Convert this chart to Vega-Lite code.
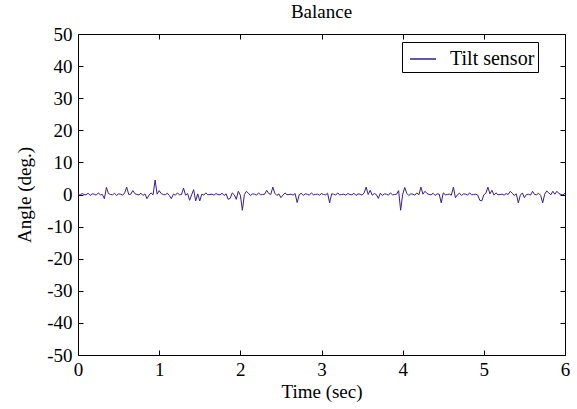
{
  "$schema": "https://vega.github.io/schema/vega-lite/v6.json",
  "width": 487,
  "height": 321,
  "autosize": "none",
  "padding": {"left": 78, "top": 34, "right": 12, "bottom": 54},
  "background": "white",
  "title": {"text": "Balance", "font": "Liberation Serif", "fontSize": 19, "fontWeight": "normal", "color": "black", "offset": 3},
  "config": {
    "view": {"stroke": "black", "strokeWidth": 1},
    "font": "Liberation Serif",
    "axis": {
      "grid": false,
      "domainColor": "black",
      "tickColor": "black",
      "tickSize": -5,
      "labelFont": "Liberation Serif",
      "labelFontSize": 19,
      "labelColor": "black",
      "titleFont": "Liberation Serif",
      "titleFontSize": 19,
      "titleFontWeight": "normal",
      "titleColor": "black"
    },
    "legend": {
      "orient": "none",
      "legendX": 324,
      "legendY": 8,
      "strokeColor": "black",
      "fillColor": "white",
      "padding": 3,
      "symbolOffset": 4,
      "labelOffset": 13,
      "labelFont": "Liberation Serif",
      "labelFontSize": 20,
      "labelColor": "black",
      "labelLimit": 0,
      "symbolType": "stroke",
      "symbolSize": 680,
      "symbolStrokeWidth": 1.5,
      "cornerRadius": 0
    }
  },
  "data": {"values": [
    {"t":0,"a":0.1},{"t":0.025,"a":-0.2},{"t":0.05,"a":0.3},{"t":0.075,"a":0.0},{"t":0.1,"a":-0.1},{"t":0.125,"a":0.4},{"t":0.15,"a":-0.3},{"t":0.175,"a":0.2},{"t":0.2,"a":0.1},{"t":0.225,"a":-0.2},
    {"t":0.25,"a":0.5},{"t":0.275,"a":-0.1},{"t":0.3,"a":0.0},{"t":0.325,"a":-1.3},{"t":0.35,"a":2.2},{"t":0.375,"a":0.3},{"t":0.4,"a":0.0},{"t":0.425,"a":-0.1},{"t":0.45,"a":0.4},{"t":0.475,"a":-0.3},
    {"t":0.5,"a":0.2},{"t":0.525,"a":0.1},{"t":0.55,"a":-0.2},{"t":0.575,"a":0.5},{"t":0.6,"a":2.3},{"t":0.625,"a":0.0},{"t":0.65,"a":0.1},{"t":0.675,"a":1.2},{"t":0.7,"a":0.3},{"t":0.725,"a":0.0},
    {"t":0.75,"a":-0.1},{"t":0.775,"a":0.4},{"t":0.8,"a":-0.3},{"t":0.825,"a":0.2},{"t":0.85,"a":-1.3},{"t":0.875,"a":-0.2},{"t":0.9,"a":0.5},{"t":0.925,"a":-0.1},{"t":0.95,"a":4.5},{"t":0.975,"a":0.1},
    {"t":1.0,"a":1.2},{"t":1.025,"a":0.3},{"t":1.05,"a":0.0},{"t":1.075,"a":-0.1},{"t":1.1,"a":0.4},{"t":1.125,"a":-0.3},{"t":1.15,"a":-1.3},{"t":1.175,"a":0.1},{"t":1.2,"a":-0.2},{"t":1.225,"a":0.5},
    {"t":1.25,"a":-0.1},{"t":1.275,"a":0.0},{"t":1.3,"a":2.0},{"t":1.325,"a":-0.2},{"t":1.35,"a":0.3},{"t":1.375,"a":-1.8},{"t":1.4,"a":-0.1},{"t":1.425,"a":1.5},{"t":1.45,"a":-2.0},{"t":1.475,"a":0.2},
    {"t":1.5,"a":-2.0},{"t":1.525,"a":0.1},{"t":1.55,"a":-0.2},{"t":1.575,"a":0.5},{"t":1.6,"a":-0.1},{"t":1.625,"a":0.0},{"t":1.65,"a":0.1},{"t":1.675,"a":-0.2},{"t":1.7,"a":0.3},{"t":1.725,"a":0.0},
    {"t":1.75,"a":-0.1},{"t":1.775,"a":0.4},{"t":1.8,"a":-0.3},{"t":1.825,"a":0.2},{"t":1.85,"a":-1.5},{"t":1.875,"a":-1.2},{"t":1.9,"a":0.5},{"t":1.925,"a":-0.1},{"t":1.95,"a":-1.5},{"t":1.975,"a":1.0},
    {"t":2.0,"a":-0.2},{"t":2.025,"a":-4.9},{"t":2.05,"a":0.0},{"t":2.075,"a":1.0},{"t":2.1,"a":0.4},{"t":2.125,"a":-0.3},{"t":2.15,"a":0.2},{"t":2.175,"a":0.1},{"t":2.2,"a":-0.2},{"t":2.225,"a":0.5},
    {"t":2.25,"a":-0.1},{"t":2.275,"a":0.0},{"t":2.3,"a":0.1},{"t":2.325,"a":1.3},{"t":2.35,"a":0.3},{"t":2.375,"a":0.0},{"t":2.4,"a":2.3},{"t":2.425,"a":0.4},{"t":2.45,"a":-0.3},{"t":2.475,"a":0.2},
    {"t":2.5,"a":-1.0},{"t":2.525,"a":-0.2},{"t":2.55,"a":0.5},{"t":2.575,"a":-0.1},{"t":2.6,"a":0.0},{"t":2.625,"a":0.1},{"t":2.65,"a":-0.2},{"t":2.675,"a":0.3},{"t":2.7,"a":-2.5},{"t":2.725,"a":-0.1},
    {"t":2.75,"a":0.4},{"t":2.775,"a":-0.3},{"t":2.8,"a":0.2},{"t":2.825,"a":0.1},{"t":2.85,"a":-0.2},{"t":2.875,"a":0.5},{"t":2.9,"a":-0.1},{"t":2.925,"a":0.0},{"t":2.95,"a":0.1},{"t":2.975,"a":-0.2},
    {"t":3.0,"a":0.3},{"t":3.025,"a":0.0},{"t":3.05,"a":-0.1},{"t":3.075,"a":0.4},{"t":3.1,"a":-2.6},{"t":3.125,"a":0.2},{"t":3.15,"a":0.1},{"t":3.175,"a":-0.2},{"t":3.2,"a":0.5},{"t":3.225,"a":-0.1},
    {"t":3.25,"a":0.0},{"t":3.275,"a":0.1},{"t":3.3,"a":-0.2},{"t":3.325,"a":0.3},{"t":3.35,"a":0.0},{"t":3.375,"a":-0.1},{"t":3.4,"a":0.4},{"t":3.425,"a":-0.3},{"t":3.45,"a":0.2},{"t":3.475,"a":0.1},
    {"t":3.5,"a":-0.2},{"t":3.525,"a":0.5},{"t":3.55,"a":2.3},{"t":3.575,"a":0.0},{"t":3.6,"a":1.3},{"t":3.625,"a":-0.2},{"t":3.65,"a":0.3},{"t":3.675,"a":0.0},{"t":3.7,"a":-1.2},{"t":3.725,"a":0.4},
    {"t":3.75,"a":-0.3},{"t":3.775,"a":0.2},{"t":3.8,"a":0.1},{"t":3.825,"a":-0.2},{"t":3.85,"a":0.5},{"t":3.875,"a":-0.1},{"t":3.9,"a":0.0},{"t":3.925,"a":0.1},{"t":3.95,"a":1.2},{"t":3.975,"a":-4.9},
    {"t":4.0,"a":0.0},{"t":4.025,"a":2.2},{"t":4.05,"a":0.4},{"t":4.075,"a":-0.3},{"t":4.1,"a":0.2},{"t":4.125,"a":0.1},{"t":4.15,"a":-0.2},{"t":4.175,"a":0.5},{"t":4.2,"a":-0.1},{"t":4.225,"a":2.3},
    {"t":4.25,"a":0.1},{"t":4.275,"a":1.0},{"t":4.3,"a":0.3},{"t":4.325,"a":0.0},{"t":4.35,"a":-0.1},{"t":4.375,"a":0.4},{"t":4.4,"a":-0.3},{"t":4.425,"a":0.2},{"t":4.45,"a":0.1},{"t":4.475,"a":-2.6},
    {"t":4.5,"a":0.5},{"t":4.525,"a":-0.1},{"t":4.55,"a":0.0},{"t":4.575,"a":0.1},{"t":4.6,"a":-0.2},{"t":4.625,"a":2.3},{"t":4.65,"a":-1.0},{"t":4.675,"a":-0.1},{"t":4.7,"a":0.4},{"t":4.725,"a":-0.3},
    {"t":4.75,"a":0.2},{"t":4.775,"a":0.1},{"t":4.8,"a":-0.2},{"t":4.825,"a":0.5},{"t":4.85,"a":-0.1},{"t":4.875,"a":0.0},{"t":4.9,"a":0.1},{"t":4.925,"a":-0.2},{"t":4.95,"a":-1.8},{"t":4.975,"a":-2.0},
    {"t":5.0,"a":-0.1},{"t":5.025,"a":0.4},{"t":5.05,"a":2.3},{"t":5.075,"a":0.2},{"t":5.1,"a":1.3},{"t":5.125,"a":-0.2},{"t":5.15,"a":0.5},{"t":5.175,"a":-0.1},{"t":5.2,"a":0.0},{"t":5.225,"a":0.1},
    {"t":5.25,"a":-0.2},{"t":5.275,"a":0.3},{"t":5.3,"a":0.0},{"t":5.325,"a":1.0},{"t":5.35,"a":0.4},{"t":5.375,"a":-0.3},{"t":5.4,"a":0.2},{"t":5.425,"a":-2.6},{"t":5.45,"a":-0.2},{"t":5.475,"a":0.5},
    {"t":5.5,"a":-1.0},{"t":5.525,"a":0.0},{"t":5.55,"a":0.1},{"t":5.575,"a":-0.2},{"t":5.6,"a":1.0},{"t":5.625,"a":0.0},{"t":5.65,"a":-0.1},{"t":5.675,"a":0.4},{"t":5.7,"a":-0.3},{"t":5.725,"a":-2.6},
    {"t":5.75,"a":0.1},{"t":5.775,"a":1.1},{"t":5.8,"a":0.5},{"t":5.825,"a":-0.1},{"t":5.85,"a":1.0},{"t":5.875,"a":0.1},{"t":5.9,"a":1.0},{"t":5.925,"a":0.3},{"t":5.95,"a":0.0},{"t":5.975,"a":-0.1},
    {"t":6.0,"a":0.4}
  ]},
  "layer": [
    {
      "mark": {"type": "line", "strokeWidth": 1, "clip": true},
      "encoding": {
        "x": {"field": "t", "type": "quantitative", "scale": {"domain": [0, 6], "nice": false},
              "axis": {"orient": "bottom", "title": "Time (sec)", "values": [0,1,2,3,4,5,6], "labelPadding": 10, "titlePadding": 3, "labelFlush": false}},
        "y": {"field": "a", "type": "quantitative", "scale": {"domain": [-50, 50], "nice": false, "zero": false},
              "axis": {"orient": "left", "title": "Angle (deg.)", "values": [-50,-40,-30,-20,-10,0,10,20,30,40,50], "labelExpr": "toString(datum.value)", "labelPadding": 11, "titlePadding": 12, "labelFlush": false}},
        "color": {"datum": "Tilt sensor", "type": "nominal", "scale": {"domain": ["Tilt sensor"], "range": ["#3a1d8f"]}, "legend": {"title": null}}
      }
    },
    {
      "mark": {"type": "line", "opacity": 0},
      "encoding": {
        "x": {"field": "t", "type": "quantitative", "axis": {"orient": "top", "title": null, "labels": false, "values": [0,1,2,3,4,5,6], "domain": false}},
        "y": {"field": "a", "type": "quantitative", "axis": {"orient": "right", "title": null, "labels": false, "values": [-50,-40,-30,-20,-10,0,10,20,30,40,50], "domain": false}}
      }
    }
  ],
  "resolve": {"axis": {"x": "independent", "y": "independent"}}
}
